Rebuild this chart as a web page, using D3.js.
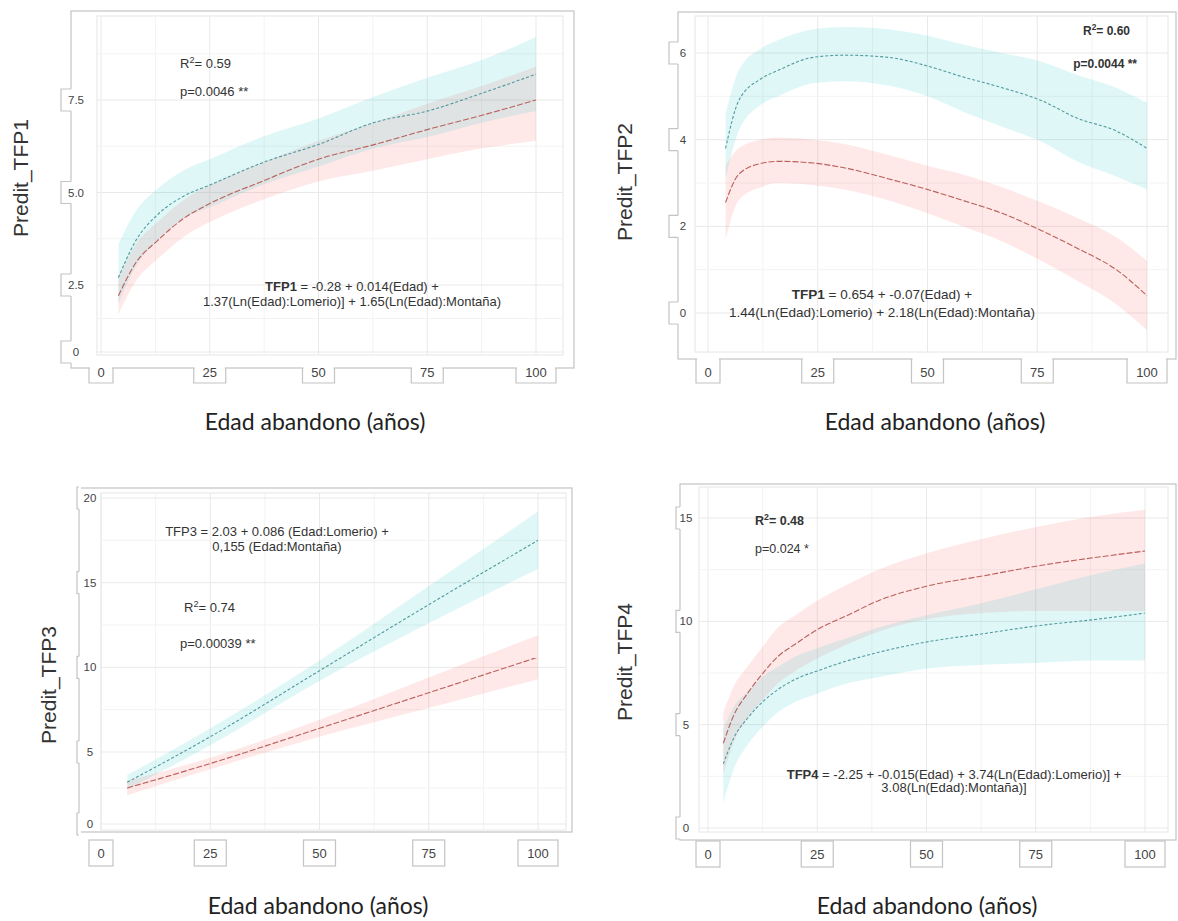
<!DOCTYPE html>
<html>
<head>
<meta charset="utf-8">
<script src="https://cdn.jsdelivr.net/npm/d3@7"></script>
<style>
  body { margin: 0; background: #fff; }
  svg text { font-family: "Liberation Sans", Arial, sans-serif; }
</style>
</head>
<body>
<div id="chart"></div>
<script>
// shared x ticks (Edad abandono, años)
var xTicks = [0, 25, 50, 75, 100];

// TFP1
var edad1 = [4, 8, 13, 19, 25, 37, 50, 63, 75, 88, 100];
var tfp1Lom   = [2.1, 3.1, 3.7, 4.3, 4.7, 5.3, 5.9, 6.3, 6.7, 7.1, 7.5];
var tfp1LomLo = [1.4, 2.6, 3.2, 3.8, 4.2, 4.8, 5.3, 5.6, 5.9, 6.2, 6.4];
var tfp1LomHi = [2.7, 3.6, 4.2, 4.8, 5.2, 5.8, 6.4, 6.9, 7.4, 7.9, 8.4];
var tfp1Mon   = [2.7, 3.7, 4.4, 4.9, 5.2, 5.8, 6.3, 6.9, 7.2, 7.7, 8.2];
var tfp1MonLo = [1.8, 3.0, 3.7, 4.3, 4.6, 5.2, 5.7, 6.2, 6.5, 6.9, 7.2];
var tfp1MonHi = [3.6, 4.5, 5.1, 5.6, 5.9, 6.5, 7.0, 7.6, 8.1, 8.6, 9.2];
var yTicks1 = [0, 2.5, 5, 7.5];
var yLabels1 = ["0", "2.5", "5.0", "7.5"];

// TFP2
var edad2 = [4, 7, 12, 16, 24, 31, 41, 50, 58, 67, 76, 84, 93, 100];
var tfp2Lom   = [2.55, 3.2, 3.45, 3.5, 3.46, 3.35, 3.1, 2.85, 2.6, 2.3, 1.9, 1.5, 1.0, 0.4];
var tfp2LomLo = [1.7, 2.6, 2.9, 3.0, 2.95, 2.85, 2.6, 2.3, 2.0, 1.65, 1.2, 0.75, 0.2, -0.4];
var tfp2LomHi = [3.4, 3.8, 4.0, 4.05, 4.0, 3.9, 3.65, 3.4, 3.2, 2.9, 2.55, 2.2, 1.75, 1.2];
var tfp2Mon   = [3.8, 4.9, 5.4, 5.6, 5.9, 5.95, 5.9, 5.7, 5.45, 5.2, 4.9, 4.5, 4.2, 3.8];
var tfp2MonLo = [3.1, 4.2, 4.8, 5.0, 5.3, 5.35, 5.25, 5.0, 4.65, 4.3, 3.95, 3.5, 3.15, 2.85];
var tfp2MonHi = [4.6, 5.6, 6.1, 6.3, 6.55, 6.6, 6.55, 6.4, 6.2, 6.0, 5.8, 5.5, 5.2, 4.85];
var yTicks2 = [0, 2, 4, 6];
var yLabels2 = ["0", "2", "4", "6"];

// TFP3
var edad3 = [6, 25, 50, 75, 100];
var tfp3Lom   = [2.5, 4.2, 6.4, 8.5, 10.6];
var tfp3LomLo = [2.0, 3.8, 5.9, 7.6, 9.3];
var tfp3LomHi = [3.0, 4.6, 6.9, 9.4, 11.9];
var tfp3Mon   = [2.9, 5.9, 9.8, 13.7, 17.5];
var tfp3MonLo = [2.4, 5.4, 9.2, 12.6, 15.8];
var tfp3MonHi = [3.4, 6.4, 10.4, 14.8, 19.2];
var yTicks3 = [0, 5, 10, 15, 20];
var yLabels3 = ["0", "5", "10", "15", "20"];

// TFP4
var edad4 = [3.5, 6, 9, 13, 16, 20, 25, 32, 39, 50, 63, 76, 89, 100];
var tfp4Lom   = [4.1, 5.5, 6.5, 7.6, 8.3, 8.9, 9.6, 10.3, 11.0, 11.7, 12.2, 12.7, 13.1, 13.4];
var tfp4LomLo = [2.6, 4.2, 5.3, 6.3, 7.0, 7.6, 8.2, 8.9, 9.5, 10.1, 10.4, 10.5, 10.5, 10.5];
var tfp4LomHi = [5.6, 6.9, 7.8, 8.9, 9.7, 10.3, 11.0, 11.8, 12.5, 13.3, 14.0, 14.6, 15.1, 15.4];
var tfp4Mon   = [3.1, 4.4, 5.3, 6.2, 6.7, 7.2, 7.6, 8.1, 8.5, 9.0, 9.4, 9.8, 10.1, 10.4];
var tfp4MonLo = [1.2, 2.9, 4.0, 5.0, 5.6, 6.1, 6.5, 7.0, 7.3, 7.7, 7.9, 8.0, 8.1, 8.1];
var tfp4MonHi = [4.8, 5.9, 6.6, 7.4, 7.8, 8.3, 8.7, 9.2, 9.7, 10.3, 10.9, 11.6, 12.3, 12.8];
var yTicks4 = [0, 5, 10, 15];
var yLabels4 = ["0", "5", "10", "15"];

var xTitle = "Edad abandono (años)";

function createRows(ages, fit, lo, hi) {
    var rows = [];
    for (var i = 0; i < ages.length; i++) {
        rows.push({ x: ages[i], fit: fit[i], lo: lo[i], hi: hi[i] });
    }
    return rows;
}

var panels = [
    {
        yTitle: "Predit_TFP1",
        lom: createRows(edad1, tfp1Lom, tfp1LomLo, tfp1LomHi),
        mon: createRows(edad1, tfp1Mon, tfp1MonLo, tfp1MonHi),
        yTicks: yTicks1, yLabels: yLabels1,
        yDomain: [0, 2.5, 7.5], yRange: [352, 285, 100],
        xRange: [101, 536],
        frame: [71, 11, 574, 368], inner: [97, 16, 563, 355],
        yTab: [61, 76], xTabY: 372, attached: true,
        yTitlePos: [21, 178], xTitlePos: [315, 422],
        notes: [
            { x: 180, y: 68, size: 13, parts: [{ t: "R" }, { t: "2", sup: true }, { t: "= 0.59" }] },
            { x: 180, y: 96, size: 13, parts: [{ t: "p=0.0046 **" }] },
            { x: 352, y: 291, anchor: "middle", size: 13, parts: [{ t: "TFP1", b: true }, { t: " = -0.28 + 0.014(Edad) +" }] },
            { x: 352, y: 306, anchor: "middle", size: 13, parts: [{ t: "1.37(Ln(Edad):Lomerio)] + 1.65(Ln(Edad):Montaña)" }] }
        ]
    },
    {
        yTitle: "Predit_TFP2",
        lom: createRows(edad2, tfp2Lom, tfp2LomLo, tfp2LomHi),
        mon: createRows(edad2, tfp2Mon, tfp2MonLo, tfp2MonHi),
        yTicks: yTicks2, yLabels: yLabels2,
        yDomain: [0, 6], yRange: [313, 53],
        xRange: [708, 1147],
        frame: [678, 12, 1176, 359], inner: [695, 16, 1168, 352],
        yTab: [669, 683], xTabY: 372, attached: true,
        yTitlePos: [625, 182], xTitlePos: [935, 422],
        notes: [
            { x: 1130, y: 35, anchor: "end", bold: true, size: 12, parts: [{ t: "R" }, { t: "2", sup: true }, { t: "= 0.60" }] },
            { x: 1137, y: 68, anchor: "end", bold: true, size: 12, parts: [{ t: "p=0.0044 **" }] },
            { x: 882, y: 299, anchor: "middle", size: 13.5, parts: [{ t: "TFP1", b: true }, { t: " = 0.654 + -0.07(Edad) +" }] },
            { x: 882, y: 317, anchor: "middle", size: 13.5, parts: [{ t: "1.44(Ln(Edad):Lomerio) + 2.18(Ln(Edad):Montaña)" }] }
        ]
    },
    {
        yTitle: "Predit_TFP3",
        lom: createRows(edad3, tfp3Lom, tfp3LomLo, tfp3LomHi),
        mon: createRows(edad3, tfp3Mon, tfp3MonLo, tfp3MonHi),
        yTicks: yTicks3, yLabels: yLabels3,
        yDomain: [0, 5, 20], yRange: [824, 752, 498],
        xRange: [101, 538],
        frame: [79, 488, 572, 832], inner: [101, 493, 566, 830],
        yTab: [77, 90], xTabY: 853, attached: false,
        yTitlePos: [49, 685], xTitlePos: [318, 906],
        notes: [
            { x: 277, y: 536, anchor: "middle", size: 13, parts: [{ t: "TFP3 = 2.03 + 0.086 (Edad:Lomerio) +" }] },
            { x: 277, y: 551, anchor: "middle", size: 13, parts: [{ t: "0,155 (Edad:Montaña)" }] },
            { x: 184, y: 612, size: 13, parts: [{ t: "R" }, { t: "2", sup: true }, { t: "= 0.74" }] },
            { x: 180, y: 648, size: 13, parts: [{ t: "p=0.00039 **" }] }
        ]
    },
    {
        yTitle: "Predit_TFP4",
        lom: createRows(edad4, tfp4Lom, tfp4LomLo, tfp4LomHi),
        mon: createRows(edad4, tfp4Mon, tfp4MonLo, tfp4MonHi),
        yTicks: yTicks4, yLabels: yLabels4,
        yDomain: [0, 15], yRange: [828, 518],
        xRange: [708, 1145],
        frame: [680, 484, 1176, 840], inner: [699, 487, 1168, 832],
        yTab: [676, 686], xTabY: 854, attached: false,
        yTitlePos: [625, 662], xTitlePos: [927, 906],
        notes: [
            { x: 755, y: 525, bold: true, size: 12.5, parts: [{ t: "R" }, { t: "2", sup: true }, { t: "= 0.48" }] },
            { x: 755, y: 553, size: 12.5, parts: [{ t: "p=0.024 *" }] },
            { x: 954, y: 779, anchor: "middle", size: 13, parts: [{ t: "TFP4", b: true }, { t: " = -2.25 + -0.015(Edad) + 3.74(Ln(Edad):Lomerio)] +" }] },
            { x: 954, y: 792, anchor: "middle", size: 13, parts: [{ t: "3.08(Ln(Edad):Montaña)]" }] }
        ]
    }
];

const width = 1178;
const height = 921;

let svg = d3.select('#chart')
    .append('svg')
        .attr('width', width)
        .attr('height', height);

panels.forEach(function(p, k) { buildPanel(p, k); });

function addNote(g, n) {
    let size = n.size || 12;
    let t = g.append('text')
        .attr('x', n.x)
        .attr('y', n.y)
        .attr('text-anchor', n.anchor || 'start')
        .style('font-size', size + 'px')
        .style('font-weight', n.bold ? 'bold' : 'normal')
        .style('fill', '#333');
    let wasSup = false;
    n.parts.forEach(function(s) {
        let sp = t.append('tspan').text(s.t);
        if (s.sup) {
            sp.attr('dy', -5).style('font-size', (size * 0.7) + 'px');
        } else if (wasSup) {
            sp.attr('dy', 5);
        }
        if (s.b) sp.style('font-weight', 'bold');
        wasSup = !!s.sup;
    });
}

function buildPanel(p, k) {
    const xScale = d3.scaleLinear()
                        .domain([0, 100])
                        .range(p.xRange);

    // polylinear where the source figure's y ticks are unevenly spaced
    const yScale = d3.scaleLinear()
                        .domain(p.yDomain)
                        .range(p.yRange);

    let g = svg.append('g');
    const fr = p.frame, inn = p.inner;

    // outer frame
    g.append('rect')
        .attr('x', fr[0])
        .attr('y', fr[1])
        .attr('width', fr[2] - fr[0])
        .attr('height', fr[3] - fr[1])
        .attr('fill', 'none')
        .attr('stroke', '#c4c4c4')
        .attr('stroke-width', 1.2);

    // inner panel
    g.append('rect')
        .attr('x', inn[0])
        .attr('y', inn[1])
        .attr('width', inn[2] - inn[0])
        .attr('height', inn[3] - inn[1])
        .attr('fill', '#fff')
        .attr('stroke', '#e6e6e6');

    // grid lines
    let xMinor = xTicks.slice(1).map((d, i) => (d + xTicks[i]) / 2);
    let yStep = p.yTicks[1] - p.yTicks[0];
    let yMinor = p.yTicks.map((d) => d + yStep / 2);
    let grid = g.append('g');

    grid.selectAll('.xmin')
        .data(xMinor)
        .enter()
        .append('line')
            .attr('x1', (d) => xScale(d))
            .attr('x2', (d) => xScale(d))
            .attr('y1', inn[1])
            .attr('y2', inn[3])
            .attr('stroke', '#f3f3f3');

    grid.selectAll('.xmaj')
        .data(xTicks)
        .enter()
        .append('line')
            .attr('x1', (d) => xScale(d))
            .attr('x2', (d) => xScale(d))
            .attr('y1', inn[1])
            .attr('y2', inn[3])
            .attr('stroke', '#e9e9e9');

    grid.selectAll('.ymin')
        .data(yMinor.filter((d) => yScale(d) > inn[1] && yScale(d) < inn[3]))
        .enter()
        .append('line')
            .attr('x1', inn[0])
            .attr('x2', inn[2])
            .attr('y1', (d) => yScale(d))
            .attr('y2', (d) => yScale(d))
            .attr('stroke', '#f3f3f3');

    grid.selectAll('.ymaj')
        .data(p.yTicks.filter((d) => yScale(d) > inn[1] && yScale(d) < inn[3]))
        .enter()
        .append('line')
            .attr('x1', inn[0])
            .attr('x2', inn[2])
            .attr('y1', (d) => yScale(d))
            .attr('y2', (d) => yScale(d))
            .attr('stroke', '#e9e9e9');

    // clip to the inner panel
    let clipId = 'clip' + k;
    svg.append('clipPath')
        .attr('id', clipId)
        .append('rect')
            .attr('x', inn[0])
            .attr('y', inn[1])
            .attr('width', inn[2] - inn[0])
            .attr('height', inn[3] - inn[1]);

    let plot = g.append('g').attr('clip-path', 'url(#' + clipId + ')');

    let area = d3.area()
        .curve(d3.curveMonotoneX)
        .x((d) => xScale(d.x))
        .y0((d) => yScale(d.lo))
        .y1((d) => yScale(d.hi));

    let line = d3.line()
        .curve(d3.curveMonotoneX)
        .x((d) => xScale(d.x))
        .y((d) => yScale(d.fit));

    plot.append('path')
        .datum(p.lom)
        .attr('fill', '#F8766D')
        .attr('fill-opacity', 0.16)
        .attr('d', area);

    plot.append('path')
        .datum(p.mon)
        .attr('fill', '#00BFC4')
        .attr('fill-opacity', 0.12)
        .attr('d', area);

    plot.append('path')
        .datum(p.lom)
        .attr('fill', 'none')
        .attr('stroke', '#b9605b')
        .attr('stroke-width', 1.1)
        .attr('stroke-dasharray', '6,2')
        .attr('d', line);

    plot.append('path')
        .datum(p.mon)
        .attr('fill', 'none')
        .attr('stroke', '#4f9a9e')
        .attr('stroke-width', 1.1)
        .attr('stroke-dasharray', '3,2')
        .attr('d', line);

    // y tick tabs
    p.yTicks.forEach(function(v, i) {
        let yc = yScale(v);
        g.append('rect')
            .attr('x', p.yTab[0] + 1)
            .attr('y', yc - 11)
            .attr('width', fr[0] - p.yTab[0] + 1)
            .attr('height', 22)
            .attr('fill', '#fff');
        g.append('path')
            .attr('d', `M${fr[0]},${yc - 11}H${p.yTab[0]}V${yc + 11}H${fr[0]}`)
            .attr('fill', 'none')
            .attr('stroke', '#c4c4c4')
            .attr('stroke-width', 1.2);
        g.append('text')
            .attr('x', p.yTab[1])
            .attr('y', yc)
            .attr('dy', '0.35em')
            .attr('text-anchor', 'middle')
            .style('font-size', '11.5px')
            .style('fill', '#444')
            .text(p.yLabels[i]);
    });

    // x tick tabs
    xTicks.forEach(function(v) {
        let xc = xScale(v);
        let w = String(v).length * 8 + 16;
        let x0 = xc - w / 2, x1 = xc + w / 2;
        if (p.attached) {
            g.append('rect')
                .attr('x', x0 + 1)
                .attr('y', fr[3] - 1)
                .attr('width', w - 2)
                .attr('height', 3)
                .attr('fill', '#fff');
            g.append('path')
                .attr('d', `M${x0},${fr[3]}V${p.xTabY + 11}H${x1}V${fr[3]}`)
                .attr('fill', 'none')
                .attr('stroke', '#c4c4c4')
                .attr('stroke-width', 1.2);
        } else {
            g.append('rect')
                .attr('x', x0)
                .attr('y', p.xTabY - 13)
                .attr('width', w)
                .attr('height', 26)
                .attr('fill', '#fff')
                .attr('stroke', '#c4c4c4')
                .attr('stroke-width', 1.2);
        }
        g.append('text')
            .attr('x', xc)
            .attr('y', p.xTabY)
            .attr('dy', '0.35em')
            .attr('text-anchor', 'middle')
            .style('font-size', '13px')
            .style('fill', '#444')
            .text(String(v));
    });

    // axis titles
    g.append('text')
        .attr('transform', `translate(${p.yTitlePos[0]}, ${p.yTitlePos[1]}) rotate(-90)`)
        .attr('dy', '0.35em')
        .attr('text-anchor', 'middle')
        .style('font-size', '21px')
        .style('fill', '#333')
        .text(p.yTitle);

    g.append('text')
        .attr('x', p.xTitlePos[0])
        .attr('y', p.xTitlePos[1])
        .attr('dy', '0.35em')
        .attr('text-anchor', 'middle')
        .style('font-family', 'Lato, "Open Sans", sans-serif')
        .style('font-size', '23px')
        .style('fill', '#222')
        .text(xTitle);

    p.notes.forEach(function(n) { addNote(g, n); });
}
</script>
</body>
</html>
